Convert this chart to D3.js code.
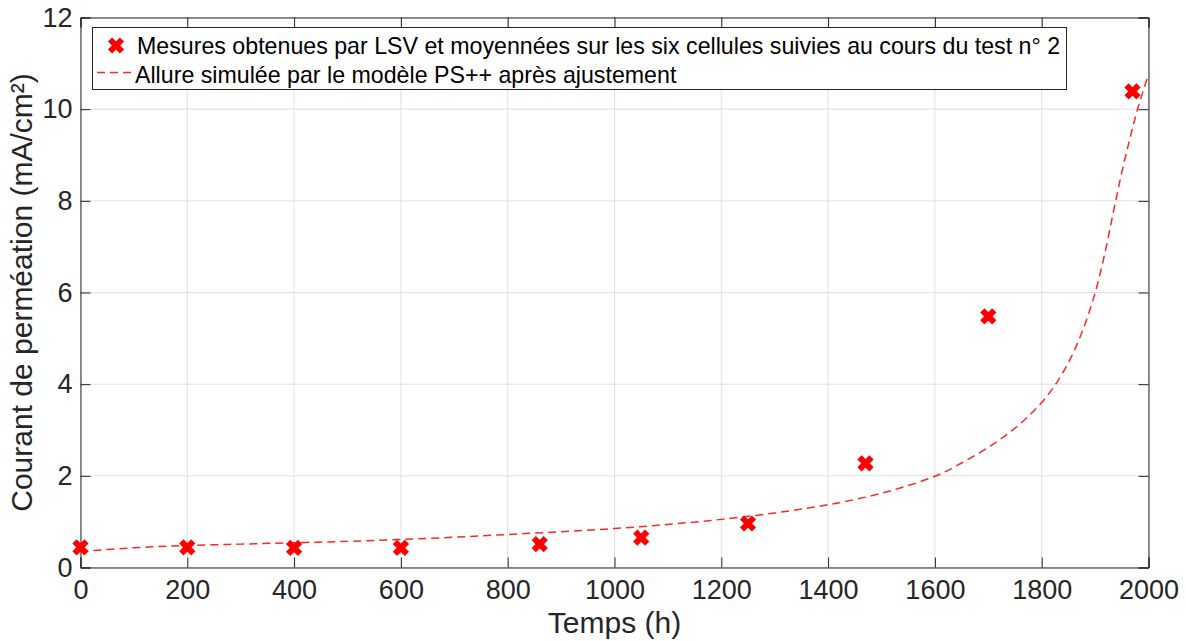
<!DOCTYPE html>
<html>
<head>
<meta charset="utf-8">
<script src="https://cdn.jsdelivr.net/npm/d3@7"></script>
<style>
  html, body { margin: 0; padding: 0; background: #fff; }
  svg { display: block; font-family: "Liberation Sans", Arial, Helvetica, sans-serif; }
</style>
</head>
<body>
<svg id="chart" width="1186" height="641"></svg>
<script>
// Measured permeation current (mean of six cells, test no. 2)
const measureTimes = [0, 200, 400, 600, 860, 1050, 1250, 1470, 1700, 1970];
const measureValues = [0.44, 0.44, 0.43, 0.43, 0.51, 0.65, 0.96, 2.27, 5.48, 10.39];

// PS++ model trend after fitting
const modelTimes = [0, 100, 200, 300, 400, 500, 600, 700, 800, 900, 1000, 1100, 1200, 1300, 1400, 1500,
  1600, 1650, 1700, 1725, 1750, 1775, 1800, 1825, 1850, 1875, 1900, 1920, 1935, 1950, 1965, 1980, 2000];
const modelValues = [0.35, 0.43, 0.48, 0.51, 0.54, 0.57, 0.61, 0.66, 0.72, 0.78, 0.85, 0.94, 1.05, 1.19, 1.37, 1.62,
  1.99, 2.28, 2.62, 2.82, 3.04, 3.3, 3.6, 3.98, 4.47, 5.12, 5.99, 6.95, 7.8, 8.62, 9.35, 10.02, 10.76];

const xTicks = [0, 200, 400, 600, 800, 1000, 1200, 1400, 1600, 1800, 2000];
const yTicks = [0, 2, 4, 6, 8, 10, 12];

const legendLabels = [
  "Mesures obtenues par LSV et moyennées sur les six cellules suivies au cours du test n° 2",
  "Allure simulée par le modèle PS++ après ajustement"
];
const xLabel = "Temps (h)";
const yLabel = "Courant de perméation (mA/cm²)";

const svg = d3.select("#chart");
const plot = { left: 80.5, right: 1148.5, top: 17.5, bottom: 567.5 };

const x = d3.scaleLinear().domain([0, 2000]).range([plot.left, plot.right]);
const y = d3.scaleLinear().domain([0, 12]).range([plot.bottom, plot.top]);

const axisColor = "#262626";
const gridColor = "#e0e0e0";
const red = "#ff0000";
const tickLen = 10;

// grid
const grid = svg.append("g");
grid.selectAll(".gx").data(xTicks).enter().append("line")
  .attr("x1", d => x(d)).attr("x2", d => x(d))
  .attr("y1", plot.top).attr("y2", plot.bottom)
  .attr("stroke", gridColor).attr("stroke-width", 1);
grid.selectAll(".gy").data(yTicks).enter().append("line")
  .attr("y1", d => y(d)).attr("y2", d => y(d))
  .attr("x1", plot.left).attr("x2", plot.right)
  .attr("stroke", gridColor).attr("stroke-width", 1);

// axes (ticks pointing inward on all four sides)
const tickFont = 27;
const xAxisBottom = d3.axisBottom(x).tickValues(xTicks).tickSize(-tickLen).tickPadding(12).tickFormat(d3.format("d"));
const xAxisTop = d3.axisTop(x).tickValues(xTicks).tickSize(-tickLen).tickFormat("");
const yAxisLeft = d3.axisLeft(y).tickValues(yTicks).tickSize(-tickLen).tickPadding(8).tickFormat(d3.format("d"));
const yAxisRight = d3.axisRight(y).tickValues(yTicks).tickSize(-tickLen).tickFormat("");

function styleAxis(g) {
  g.select(".domain").attr("stroke", axisColor).attr("stroke-width", 1);
  g.selectAll(".tick line").attr("stroke", axisColor).attr("stroke-width", 1);
  g.selectAll(".tick text").attr("fill", "#262626").style("font-size", tickFont + "px")
    .style("font-family", '"Liberation Sans", Arial, sans-serif');
}
svg.append("g").attr("transform", `translate(0,${plot.bottom})`).call(xAxisBottom).call(styleAxis);
svg.append("g").attr("transform", `translate(0,${plot.top})`).call(xAxisTop).call(styleAxis);
svg.append("g").attr("transform", `translate(${plot.left},0)`).call(yAxisLeft).call(styleAxis);
svg.append("g").attr("transform", `translate(${plot.right},0)`).call(yAxisRight).call(styleAxis);

// axis labels
svg.append("text")
  .attr("x", (plot.left + plot.right) / 2).attr("y", 633)
  .attr("text-anchor", "middle").attr("fill", "#262626")
  .style("font-size", "30px").text(xLabel);
svg.append("text")
  .attr("transform", `translate(32,${(plot.top + plot.bottom) / 2}) rotate(-90)`)
  .attr("text-anchor", "middle").attr("fill", "#262626")
  .style("font-size", "30px").text(yLabel);

// model curve
const line = d3.line()
  .x((d, i) => x(modelTimes[i]))
  .y(d => y(d))
  .curve(d3.curveCatmullRom.alpha(0.5));
svg.append("path")
  .datum(modelValues)
  .attr("d", line)
  .attr("fill", "none")
  .attr("stroke", red).attr("stroke-opacity", 0.85)
  .attr("stroke-width", 1.5)
  .attr("stroke-dasharray", "8,5");

// bold cross marker
function crossPath(s) {
  return `M${-s},${-s}L${s},${s}M${-s},${s}L${s},${-s}`;
}
svg.append("g").selectAll("path").data(measureValues).enter().append("path")
  .attr("transform", (d, i) => `translate(${x(measureTimes[i])},${y(d)})`)
  .attr("d", crossPath(6))
  .attr("stroke", red).attr("stroke-width", 6)
  .attr("fill", "none");

// legend
const lg = svg.append("g");
lg.append("rect")
  .attr("x", 92.5).attr("y", 27.5).attr("width", 974).attr("height", 62)
  .attr("fill", "#fff").attr("stroke", "#262626").attr("stroke-width", 1);
lg.append("path")
  .attr("transform", "translate(116,45.5)")
  .attr("d", crossPath(6))
  .attr("stroke", red).attr("stroke-width", 6).attr("fill", "none");
lg.append("line")
  .attr("x1", 97).attr("x2", 134).attr("y1", 72.5).attr("y2", 72.5)
  .attr("stroke", red).attr("stroke-opacity", 0.85)
  .attr("stroke-width", 1.5).attr("stroke-dasharray", "8,5");
lg.append("text").attr("x", 137).attr("y", 53.5)
  .attr("fill", "#000").style("font-size", "23.2px").text(legendLabels[0]);
lg.append("text").attr("x", 135).attr("y", 82.5)
  .attr("fill", "#000").style("font-size", "23.2px").text(legendLabels[1]);
</script>
</body>
</html>
